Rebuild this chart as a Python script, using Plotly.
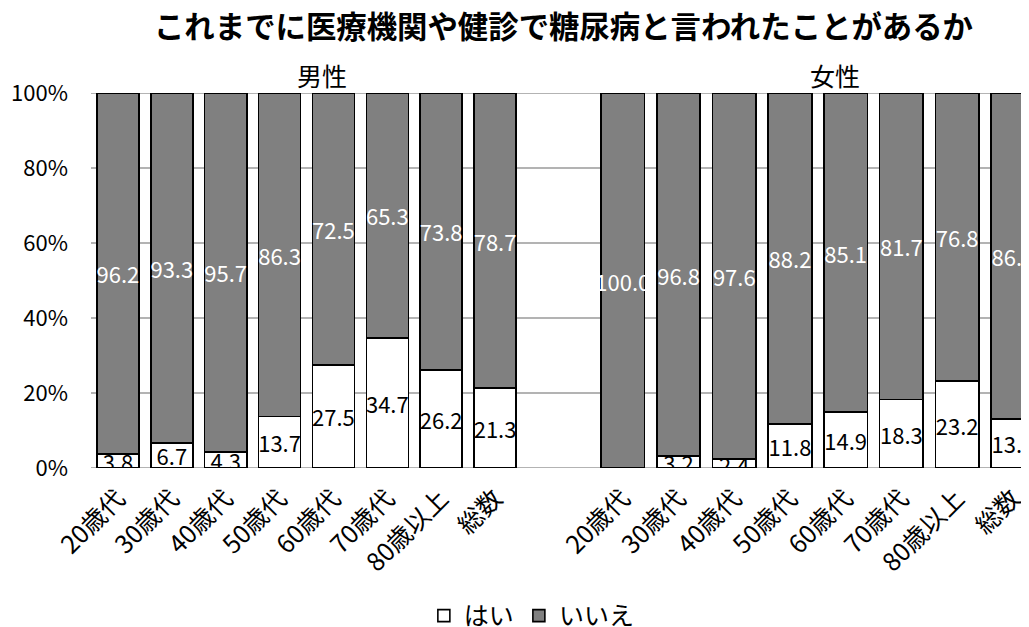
import plotly.graph_objects as go

categories = ["20歳代", "30歳代", "40歳代", "50歳代", "60歳代", "70歳代", "80歳以上", "総数"]
male_yes = [3.8, 6.7, 4.3, 13.7, 27.5, 34.7, 26.2, 21.3]
male_no = [96.2, 93.3, 95.7, 86.3, 72.5, 65.3, 73.8, 78.7]
female_yes = [0.0, 3.2, 2.4, 11.8, 14.9, 18.3, 23.2, 13.1]
female_no = [100.0, 96.8, 97.6, 88.2, 85.1, 81.7, 76.8, 86.9]
y_ticks = [0, 20, 40, 60, 80, 100]
y_tick_labels = ["0%", "20%", "40%", "60%", "80%", "100%"]

FONT = "Noto Sans CJK JP"
GRAY = "#808080"
GRID = "#9a9a9a"


def labels(vals):
    return [f"{v:.1f}" if v > 0 else "" for v in vals]


def bar(x, y, name, color, tcolor, xaxis, show):
    return go.Bar(
        x=x, y=y, name=name, xaxis=xaxis, yaxis="y",
        marker=dict(color=color, line=dict(color="black", width=1.6)),
        text=labels(y), textposition="inside", textangle=0,
        insidetextanchor="middle", constraintext="none",
        textfont=dict(family=FONT, size=22, color=tcolor),
        legendgroup=name, showlegend=show, hoverinfo="skip",
    )


fig = go.Figure()
fig.add_trace(bar(categories, male_yes, "はい", "white", "black", "x", True))
fig.add_trace(bar(categories, male_no, "いいえ", GRAY, "white", "x", True))
fig.add_trace(bar(categories, female_yes, "はい", "white", "black", "x2", False))
fig.add_trace(bar(categories, female_no, "いいえ", GRAY, "white", "x2", False))

# horizontal gridlines spanning both panels (including the gap)
for t in y_ticks:
    fig.add_shape(type="line", xref="paper", yref="y", x0=0, x1=1, y0=t, y1=t,
                  line=dict(color=GRID, width=1.5), layer="below")

fig.add_annotation(text="男性", xref="paper", yref="paper", x=0.2466, y=1.048,
                   yanchor="middle", xanchor="center",
                   showarrow=False, font=dict(family=FONT, size=25, color="black"))
fig.add_annotation(text="女性", xref="paper", yref="paper", x=0.7935, y=1.048,
                   yanchor="middle", xanchor="center",
                   showarrow=False, font=dict(family=FONT, size=25, color="black"))

xcommon = dict(type="category", showgrid=False, showline=False, zeroline=False,
               ticks="", tickangle=-45, anchor="y", automargin=False,
               ticklabelstandoff=10,
               tickfont=dict(family=FONT, size=25, color="black"))

fig.update_layout(
    width=1021, height=619,
    margin=dict(l=83, r=0, t=85, b=159, autoexpand=False),
    paper_bgcolor="white", plot_bgcolor="white",
    barmode="stack", bargap=0.22,
    title=dict(text="<b>これまでに医療機関や健診で糖尿病と言われたことがあるか</b>",
               x=0.5037, xref="paper", xanchor="center",
               y=0.968, yref="container", yanchor="middle",
               font=dict(family=FONT, size=30.4, color="black")),
    xaxis=dict(domain=[0, 0.4595], range=[-0.5, 7.5], **xcommon),
    xaxis2=dict(domain=[0.5373, 1.0], range=[-0.5, 7.29], **xcommon),
    yaxis=dict(range=[0, 100], tickvals=y_ticks, ticktext=y_tick_labels,
               showgrid=False, zeroline=False, showline=False, ticks="",
               ticklabelstandoff=22, automargin=False,
               tickfont=dict(family=FONT, size=22, color="black")),
    legend=dict(orientation="h", x=0.47, xanchor="center",
                y=0.018, yref="container", yanchor="middle",
                traceorder="normal", font=dict(family=FONT, size=25, color="black"),
                itemwidth=30),
    showlegend=True,
)

fig.write_html("out.html")
